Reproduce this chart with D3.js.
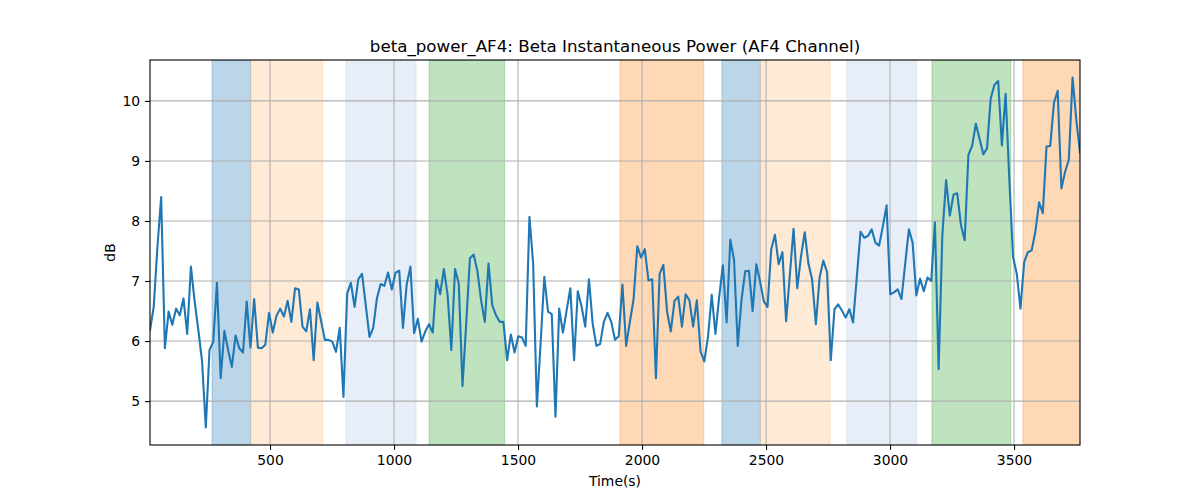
<!DOCTYPE html>
<html>
<head>
<meta charset="utf-8">
<script src="https://cdn.jsdelivr.net/npm/d3@7"></script>
<style>
  body { margin: 0; background: #fff; }
  svg text { font-family: "DejaVu Sans", sans-serif; fill: #000; }
</style>
</head>
<body>
<div id="chart"></div>
<script>
var title = "beta_power_AF4: Beta Instantaneous Power (AF4 Channel)";
var xLabel = "Time(s)";
var yLabel = "dB";

// sample clock of the recording
var t0 = 16;
var dt = 15;

var power = [
  6.18, 6.57, 7.57, 8.40, 5.88, 6.49, 6.27, 6.54, 6.43, 6.71,
  6.12, 7.24, 6.66, 6.18, 5.66, 4.56, 5.85, 5.99, 6.97, 5.38,
  6.17, 5.85, 5.57, 6.09, 5.88, 5.81, 6.66, 5.89, 6.70, 5.89,
  5.88, 5.94, 6.47, 6.14, 6.42, 6.54, 6.41, 6.67, 6.32, 6.88,
  6.86, 6.24, 6.16, 6.53, 5.68, 6.64, 6.33, 6.02, 6.02, 5.99,
  5.82, 6.22, 5.07, 6.79, 6.97,
  6.57, 7.03, 7.12, 6.60, 6.07, 6.22, 6.71, 6.95, 6.92, 7.14,
  6.86, 7.14, 7.17, 6.22, 6.94, 7.24, 6.13, 6.37, 5.99, 6.16,
  6.28, 6.14, 7.02, 6.78, 7.20, 6.77, 5.85, 7.20, 6.96, 5.25,
  6.29, 7.38, 7.44, 7.17, 6.68, 6.32, 7.29, 6.60, 6.43, 6.32,
  6.32, 5.68, 6.11, 5.81, 6.08, 6.06, 5.92, 8.07, 7.29, 4.91,
  5.96, 7.07, 6.49, 6.45, 4.74, 6.54, 6.14, 6.51, 6.88, 5.68,
  6.83, 6.58, 6.24, 7.03, 6.29, 5.92, 5.95, 6.32, 6.47, 6.32,
  6.02, 6.08, 6.94, 5.92, 6.32, 6.70, 7.58, 7.39, 7.53, 7.01,
  7.03, 5.38, 7.12, 7.27, 6.49, 6.16, 6.67, 6.74, 6.24, 6.78,
  6.68, 6.24, 6.68, 5.83, 5.66, 6.07, 6.77, 6.12, 6.73, 7.26,
  6.31, 7.69,
  7.35, 5.92, 6.68, 7.16, 7.17, 6.50, 7.28, 6.99, 6.66, 6.57,
  7.53, 7.77, 7.28, 7.48, 6.33, 7.10, 7.87, 6.88, 7.41, 7.81,
  7.29, 7.02, 6.28, 7.06, 7.34, 7.15, 5.68, 6.53, 6.61, 6.51,
  6.39, 6.53, 6.31, 7.06, 7.82, 7.72, 7.75, 7.86, 7.64, 7.59,
  7.91, 8.26, 6.78, 6.81, 6.86,
  6.70, 7.28, 7.86, 7.64, 6.76, 7.04, 6.83, 7.06, 7.00, 7.98,
  5.53, 7.77, 8.68, 8.09, 8.44, 8.46, 7.93, 7.68, 9.10, 9.25,
  9.62, 9.37, 9.11, 9.21, 10.04, 10.27, 10.33, 9.26, 10.12, 8.70,
  7.40, 7.12, 6.54, 7.32, 7.48, 7.51, 7.82, 8.31, 8.13, 9.24,
  9.25, 9.97, 10.17, 8.54, 8.82, 9.02, 10.39, 9.69, 9.14
];

var spanStart = [266, 422, 806, 1141, 1911, 2322, 2477, 2826, 3169, 3536];
var spanEnd   = [422, 712, 1089, 1446, 2249, 2477, 2758, 3108, 3487, 3800];
var spanColor = ["#1f77b4", "#ffbb78", "#aec7e8", "#2ca02c", "#ff7f0e",
                 "#1f77b4", "#ffbb78", "#aec7e8", "#2ca02c", "#ff7f0e"];

var xTicks = [500, 1000, 1500, 2000, 2500, 3000, 3500];
var yTicks = [5, 6, 7, 8, 9, 10];

var width = 1200,
    height = 500,
    margin = {top: 60, right: 120, bottom: 55, left: 150};

var data = power.map(function (v, i) { return {t: t0 + i * dt, v: v}; });

var svg = d3.select("#chart").append("svg")
    .attr("width", width)
    .attr("height", height);

var x = d3.scaleLinear()
    .domain(d3.extent(data, function (d) { return d.t; }))
    .range([margin.left, width - margin.right]);

var yMin = d3.min(power), yMax = d3.max(power), pad = (yMax - yMin) * 0.05;
var y = d3.scaleLinear()
    .domain([yMin - pad, yMax + pad])
    .range([height - margin.bottom, margin.top]);

svg.append("clipPath").attr("id", "clip")
  .append("rect")
    .attr("x", margin.left).attr("y", margin.top)
    .attr("width", width - margin.left - margin.right)
    .attr("height", height - margin.top - margin.bottom);

var plot = svg.append("g").attr("clip-path", "url(#clip)");

plot.selectAll("rect.span")
  .data(spanStart)
  .enter()
  .append("rect")
    .attr("class", "span")
    .attr("x", function (d) { return x(d); })
    .attr("width", function (d, i) { return x(spanEnd[i]) - x(d); })
    .attr("y", margin.top)
    .attr("height", height - margin.top - margin.bottom)
    .attr("fill", function (d, i) { return spanColor[i]; })
    .attr("fill-opacity", 0.3)
    .attr("stroke", function (d, i) { return spanColor[i]; })
    .attr("stroke-opacity", 0.3)
    .attr("stroke-width", 1);

var fmt = d3.format("d");
var xAxis = d3.axisBottom(x).tickValues(xTicks).tickFormat(fmt).tickSize(4.9).tickPadding(4.9);
var yAxis = d3.axisLeft(y).tickValues(yTicks).tickFormat(fmt).tickSize(4.9).tickPadding(4.9);

// grid
plot.append("g")
  .selectAll("line.xg")
  .data(xTicks)
  .enter().append("line")
    .attr("x1", function (d) { return x(d); })
    .attr("x2", function (d) { return x(d); })
    .attr("y1", margin.top).attr("y2", height - margin.bottom)
    .attr("stroke", "#b0b0b0").attr("stroke-width", 1.1);

plot.append("g")
  .selectAll("line.yg")
  .data(yTicks)
  .enter().append("line")
    .attr("y1", function (d) { return y(d); })
    .attr("y2", function (d) { return y(d); })
    .attr("x1", margin.left).attr("x2", width - margin.right)
    .attr("stroke", "#b0b0b0").attr("stroke-width", 1.1);

var line = d3.line()
    .x(function (d) { return x(d.t); })
    .y(function (d) { return y(d.v); });

plot.append("path")
    .datum(data)
    .attr("d", line)
    .attr("fill", "none")
    .attr("stroke", "#1f77b4")
    .attr("stroke-width", 2.1)
    .attr("stroke-linejoin", "round")
    .attr("stroke-linecap", "square");

var gx = svg.append("g")
    .attr("transform", "translate(0," + (height - margin.bottom) + ")")
    .call(xAxis);
var gy = svg.append("g")
    .attr("transform", "translate(" + margin.left + ",0)")
    .call(yAxis);

[gx, gy].forEach(function (g) {
  g.select(".domain").remove();
  g.selectAll(".tick line").attr("stroke", "#000").attr("stroke-width", 1.1);
  g.selectAll(".tick text")
    .style("font-family", "DejaVu Sans")
    .style("font-size", "13.9px")
    .attr("fill", "#000");
});

svg.append("rect")
    .attr("x", margin.left).attr("y", margin.top)
    .attr("width", width - margin.left - margin.right)
    .attr("height", height - margin.top - margin.bottom)
    .attr("fill", "none")
    .attr("stroke", "#000")
    .attr("stroke-width", 1.1);

svg.append("text")
    .attr("x", (margin.left + width - margin.right) / 2)
    .attr("y", 52)
    .attr("text-anchor", "middle")
    .style("font-size", "16.7px")
    .text(title);

svg.append("text")
    .attr("x", (margin.left + width - margin.right) / 2)
    .attr("y", 486)
    .attr("text-anchor", "middle")
    .style("font-size", "13.9px")
    .text(xLabel);

svg.append("text")
    .attr("transform", "translate(115," + ((margin.top + height - margin.bottom) / 2) + ") rotate(-90)")
    .attr("text-anchor", "middle")
    .style("font-size", "13.9px")
    .text(yLabel);
</script>
</body>
</html>
